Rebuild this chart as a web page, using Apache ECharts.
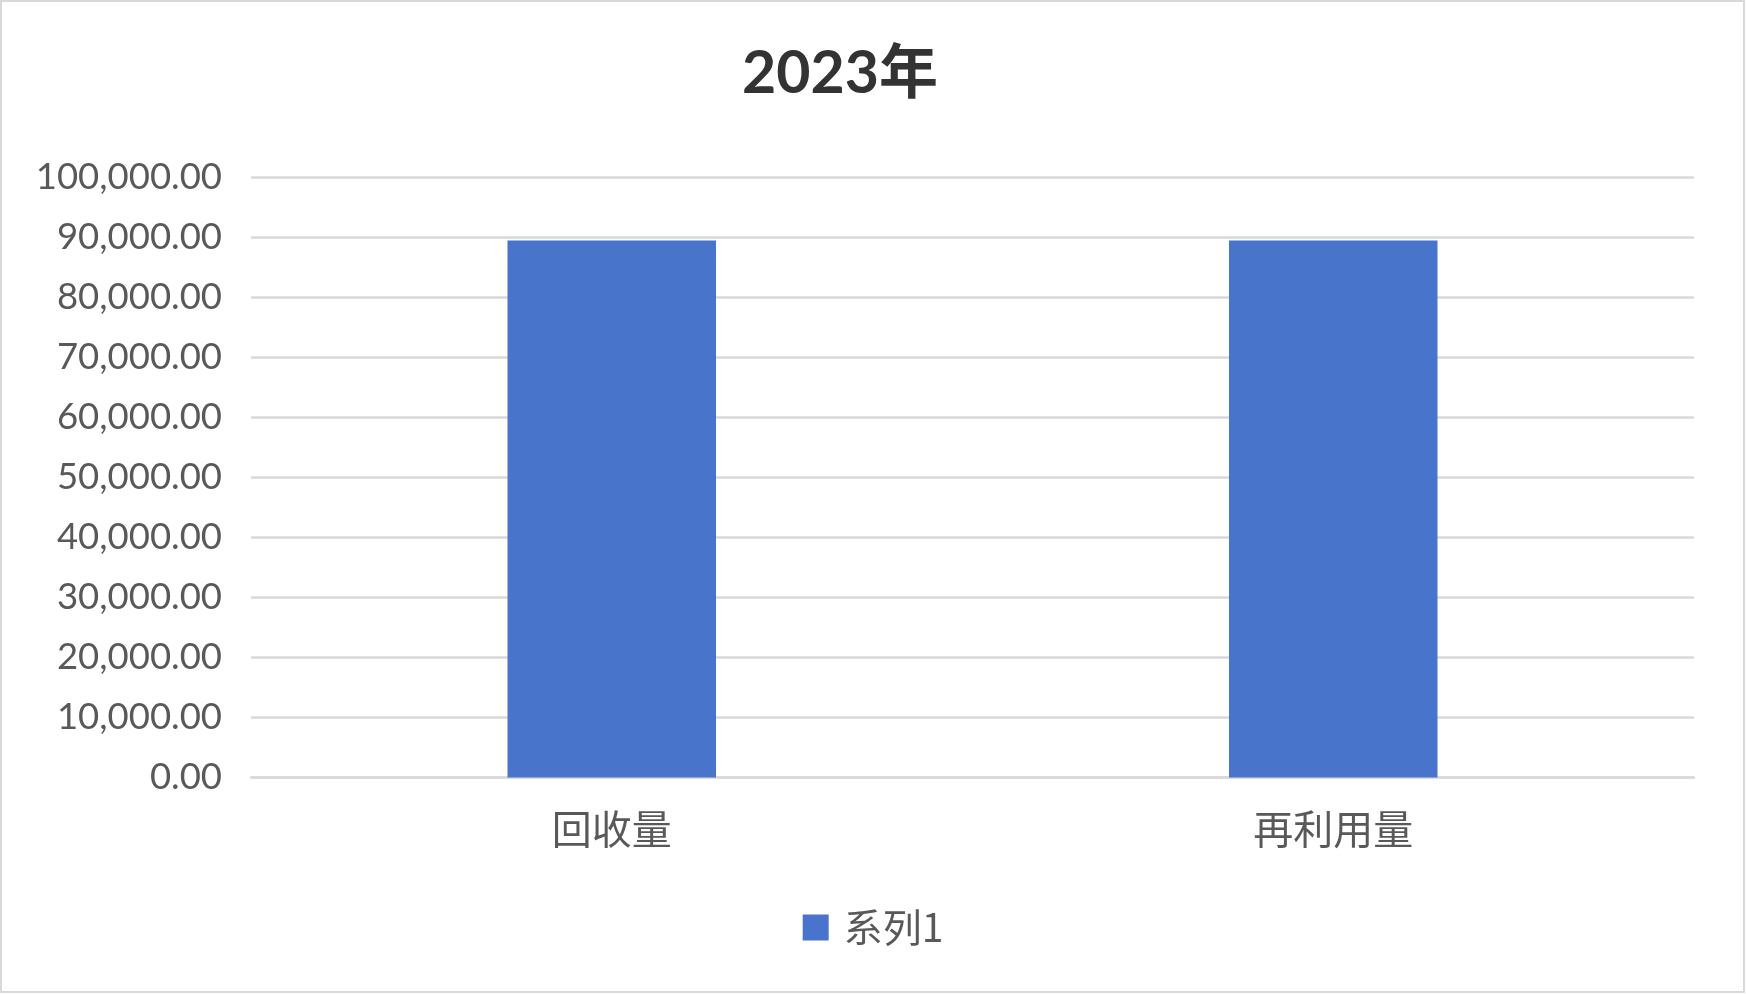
<!DOCTYPE html>
<html>
<head>
<meta charset="utf-8">
<script src="https://cdn.jsdelivr.net/npm/echarts@6/dist/echarts.min.js"></script>
<style>
html,body{margin:0;padding:0;background:#fff;}
#c{width:1746px;height:994px;}
</style>
</head>
<body>
<div id="c"></div>
<script>
const titleText = '2023年';
const categories = ['回收量', '再利用量'];
const seriesName = '系列1';
const values = [89500, 89500];
const yMin = 0, yMax = 100000, yInterval = 10000;

const chart = echarts.init(document.getElementById('c'), null, {renderer: 'canvas'});
const fmt = v => Number(v).toLocaleString('en-US', {minimumFractionDigits: 2, maximumFractionDigits: 2});
chart.setOption({
  animation: false,
  backgroundColor: '#ffffff',
  title: {
    text: titleText,
    left: 835,
    textAlign: 'center',
    top: 39,
    textStyle: {fontFamily: 'Lato, "Noto Sans CJK SC"', fontWeight: 'bold', fontSize: 59, color: '#333333'}
  },
  graphic: [{
    type: 'rect', silent: true,
    shape: {x: 1, y: 1, width: 1743, height: 991},
    style: {fill: 'none', stroke: '#d9d9d9', lineWidth: 2}
  }],
  legend: {
    data: [seriesName],
    left: 'center',
    top: 903,
    icon: 'rect',
    itemWidth: 26,
    itemHeight: 26,
    textStyle: {fontFamily: '"Noto Sans CJK SC", Lato', fontSize: 39, color: '#595959', padding: [0, 0, 0, 10]}
  },
  grid: {left: 251, right: 52, top: 177.5, bottom: 216.5, containLabel: false},
  xAxis: {
    type: 'category',
    data: categories,
    axisLine: {lineStyle: {color: '#d9d9d9', width: 2.5}},
    axisTick: {show: false},
    axisLabel: {margin: 31, fontFamily: '"Noto Sans CJK SC"', fontSize: 40, color: '#595959'}
  },
  yAxis: {
    type: 'value',
    min: yMin, max: yMax, interval: yInterval,
    axisLine: {show: false},
    axisTick: {show: false},
    splitLine: {lineStyle: {color: '#d9d9d9', width: 2.5}},
    axisLabel: {margin: 29, fontFamily: 'Lato', fontSize: 36.5, color: '#595959', formatter: fmt}
  },
  series: [{
    name: seriesName,
    type: 'bar',
    data: values,
    barWidth: '28.9%',
    itemStyle: {color: '#4874cb'}
  }]
});
</script>
</body>
</html>
